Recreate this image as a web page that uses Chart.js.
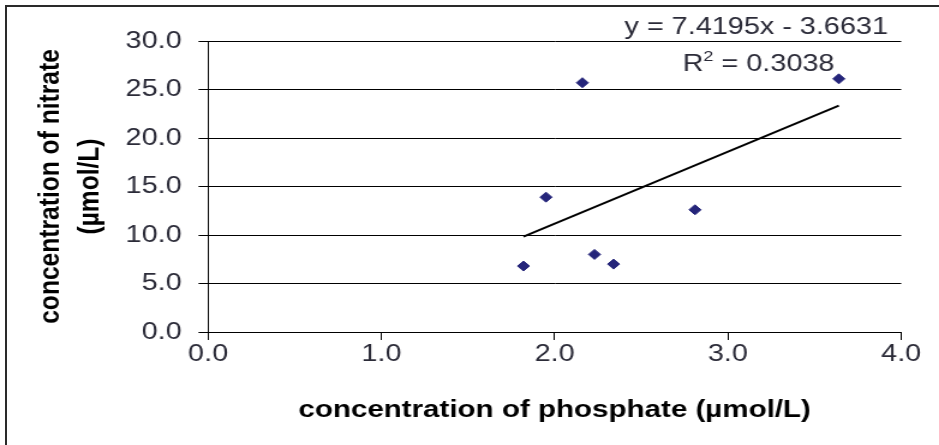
<!DOCTYPE html>
<html>
<head>
<meta charset="utf-8">
<script src="https://cdn.jsdelivr.net/npm/chart.js@4"></script>
<style>
  html, body { margin: 0; padding: 0; background: #fff; overflow: hidden; }
  #frame { position: absolute; left: 5px; top: 5px; width: 1000px; height: 1000px; border: 2px solid #2a2a2a; }
  /* the original picture is stretched sideways, so the chart is drawn narrower and scaled out */
  #wrap { position: absolute; left: 0; top: 0; width: 782px; height: 445px; transform: scaleX(1.2008); transform-origin: 0 0; }
</style>
</head>
<body>
<div id="frame"></div>
<div id="wrap"><canvas id="myChart"></canvas></div>
<script>
// phosphate vs nitrate samples
var phosphate = [1.82, 1.95, 2.16, 2.23, 2.34, 2.81, 3.64];
var nitrate = [6.8, 13.9, 25.7, 8.0, 7.0, 12.6, 26.1];
var xTicks = [0, 1, 2, 3, 4];
var yTicks = [0, 5, 10, 15, 20, 25, 30];
var yTitle = ['concentration of nitrate', '(µmol/L)'];
var xTitle = 'concentration of phosphate (µmol/L)';
// linear trendline as printed on the chart
var slope = 7.4195;
var intercept = -3.6631;
var rSquared = '0.3038';

var points = phosphate.map(function (x, i) { return { x: x, y: nitrate[i] }; });
var xLo = Math.min.apply(null, phosphate);
var xHi = Math.max.apply(null, phosphate);
var trend = [
    { x: xLo, y: slope * xLo + intercept },
    { x: xHi, y: slope * xHi + intercept }
];

var ink = '#2b2b38';
var family = 'Liberation Sans, Arial, sans-serif';
var tickFont = { family: family, size: 24 };
var titleFont = { family: family, size: 24.6, weight: 'bold', lineHeight: 1.3 };

// trendline equation + R² in the top right corner
var equationLabel = {
    id: 'equationLabel',
    afterDatasetsDraw: function (chart) {
        var ctx = chart.ctx;
        var a = chart.chartArea;
        ctx.save();
        ctx.fillStyle = ink;
        ctx.textBaseline = 'alphabetic';
        ctx.font = '24px ' + family;
        ctx.textAlign = 'right';
        var eq = 'y = ' + slope + 'x - ' + Math.abs(intercept);
        ctx.fillText(eq, a.right - 11, 33.5);
        ctx.textAlign = 'left';
        var x = a.right - 182;
        ctx.fillText('R', x, 71);
        x += ctx.measureText('R').width;
        ctx.font = '15px ' + family;
        ctx.fillText('2', x, 61);
        x += ctx.measureText('2').width;
        ctx.font = '24px ' + family;
        ctx.fillText(' = ' + rSquared, x, 71);
        ctx.restore();
    }
};

// two line rotated y title, drawn by hand so the lines sit where they should
var yTitleLabel = {
    id: 'yTitleLabel',
    afterDraw: function (chart) {
        var ctx = chart.ctx;
        var a = chart.chartArea;
        var s = chart.scales.y;
        ctx.save();
        ctx.fillStyle = '#000';
        ctx.font = 'bold 24.6px ' + family;
        ctx.textAlign = 'center';
        ctx.textBaseline = 'middle';
        yTitle.forEach(function (line, i) {
            ctx.save();
            ctx.translate(s.left + 42 + i * 33, (a.top + a.bottom) / 2);
            ctx.rotate(-Math.PI / 2);
            ctx.fillText(line, 0, 0);
            ctx.restore();
        });
        ctx.restore();
    }
};

var ctx = document.getElementById('myChart').getContext('2d');
var chart = new Chart(ctx, {
    type: 'scatter',
    data: {
        datasets: [{
            label: 'samples',
            data: points,
            pointStyle: 'rectRot',
            pointRadius: 5,
            pointBorderWidth: 1,
            backgroundColor: '#25257a',
            borderColor: '#25257a'
        }, {
            type: 'line',
            label: 'trend',
            data: trend,
            borderColor: '#000',
            borderWidth: 2,
            pointRadius: 0,
            fill: false
        }]
    },
    options: {
        responsive: true,
        maintainAspectRatio: false,
        animation: false,
        layout: { padding: { left: 0, right: 31.5, top: 41, bottom: 0 } },
        plugins: {
            legend: { display: false },
            tooltip: { enabled: false }
        },
        scales: {
            x: {
                type: 'linear',
                min: 0,
                max: 4,
                afterBuildTicks: function (scale) {
                    scale.ticks = xTicks.map(function (v) { return { value: v }; });
                },
                afterFit: function (scale) { scale.height = 113; },
                ticks: {
                    color: ink,
                    font: tickFont,
                    padding: 0,
                    callback: function (v) { return Number(v).toFixed(1); }
                },
                grid: { drawOnChartArea: false, drawTicks: true, tickLength: 8, color: '#000', lineWidth: 1 },
                border: { color: '#000', width: 1 },
                title: {
                    display: true,
                    text: xTitle,
                    color: '#000',
                    font: titleFont,
                    padding: { top: 0, bottom: 19 }
                }
            },
            y: {
                min: 0,
                max: 30,
                afterBuildTicks: function (scale) {
                    scale.ticks = yTicks.map(function (v) { return { value: v }; });
                },
                afterFit: function (scale) { scale.width = 173.3; },
                ticks: {
                    color: ink,
                    font: tickFont,
                    padding: 14,
                    callback: function (v) { return Number(v).toFixed(1); }
                },
                grid: { drawTicks: true, tickLength: 8, color: '#000', lineWidth: 1 },
                border: { color: '#000', width: 1 },
                title: { display: false }
            }
        }
    },
    plugins: [equationLabel, yTitleLabel]
});
</script>
</body>
</html>
